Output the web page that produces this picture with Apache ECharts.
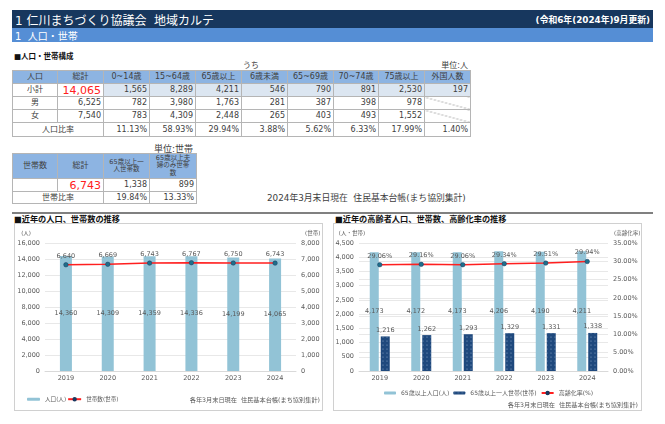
<!DOCTYPE html>
<html lang="ja">
<head>
<meta charset="utf-8">
<title>地域カルテ</title>
<script src="https://cdn.jsdelivr.net/npm/echarts@6/dist/echarts.min.js"></script>
<style>
html, body { margin: 0; padding: 0; background: #fff; }
body { position: relative; width: 665px; height: 424px; overflow: hidden; color: #404040;
  font-family: "DejaVu Sans", "Noto Sans CJK JP", sans-serif; }
.abs { position: absolute; white-space: nowrap; }
#bar1 { left: 12px; top: 10px; width: 641px; height: 18px; background: #17375e; color: #fff; }
#bar2 { left: 12px; top: 28px; width: 641px; height: 14px; background: #558ed5; color: #fff; }
.head { font-size: 8.2px; font-weight: bold; color: #111; }
.note { font-size: 8px; }
table { position: absolute; border-collapse: collapse; table-layout: fixed; font-size: 8px; }
td { border: 1px solid #b5b5b5; padding: 0 2px 0 0; text-align: right; overflow: hidden; box-sizing: border-box; line-height: 1; }
td.h { background: #8db4e2; text-align: center; padding: 0; font-size: 8px; }
td.c { text-align: center; padding: 0; font-size: 8px; }
td.s { background: #dce6f1; }
td.t { color: #ff2020; font-size: 11px; }
td.x { background: linear-gradient(to top right, transparent 48%, #a0a0a0 50%, transparent 52%); }
.box { position: absolute; top: 223px; width: 309px; height: 188px; box-sizing: border-box; border: 1px solid #d0d0d0; }
.line { position: absolute; left: 12px; top: 212px; width: 641px; height: 1.5px; background: #808080; }
</style>
</head>
<body>
<div class="abs" id="bar1">
  <span class="abs" style="left:3px;top:1px;font-size:12px">1 仁川まちづくり協議会&nbsp;&nbsp;地域カルテ</span>
  <span class="abs" style="right:3px;top:3px;font-size:8.8px;font-weight:bold">(令和6年(2024年)9月更新)</span>
</div>
<div class="abs" id="bar2"><span class="abs" style="left:3px;top:0;font-size:10px">1&nbsp;&nbsp;人口・世帯</span></div>

<div class="abs head" style="left:14px;top:50px;font-size:7.5px">■人口・世帯構成</div>
<div class="abs note" style="left:243px;top:59px">うち</div>
<div class="abs note" style="right:197px;top:59px">単位:人</div>
<table id="table1" style="left:12px;top:70px;width:458px"></table>

<div class="abs note" style="left:154px;top:142px;font-size:9px">単位:世帯</div>
<table id="table2" style="left:12px;top:153px;width:184px"></table>
<div class="abs note" style="left:267px;top:191px;font-size:8.8px">2024年3月末日現在&nbsp;&nbsp;住民基本台帳(まち協別集計)</div>

<div class="line"></div>
<div class="abs head" style="left:14px;top:212px">■近年の人口、世帯数の推移</div>
<div class="abs head" style="left:335px;top:212px">■近年の高齢者人口、世帯数、高齢化率の推移</div>

<div class="box" id="chart-left" style="left:14px"></div>
<div class="box" id="chart-right" style="left:333px"></div>

<script>
// 人口構成の表
var popHeader = ['人口', '総計', '0~14歳', '15~64歳', '65歳以上', '6歳未満', '65~69歳', '70~74歳', '75歳以上', '外国人数'];
var popTotal = ['小計', '14,065', '1,565', '8,289', '4,211', '546', '790', '891', '2,530', '197'];
var popMale = ['男', '6,525', '782', '3,980', '1,763', '281', '387', '398', '978', ''];
var popFemale = ['女', '7,540', '783', '4,309', '2,448', '265', '403', '493', '1,552', ''];
var popRatio = ['11.13%', '58.93%', '29.94%', '3.88%', '5.62%', '6.33%', '17.99%', '1.40%'];

// 世帯数の表
var hhHeader = ['世帯数', '総計', '65歳以上一<br>人世帯数', '65歳以上夫<br>婦のみ世帯<br>数'];
var hhTotal = ['', '6,743', '1,338', '899'];
var hhRatio = ['19.84%', '13.33%'];

// グラフのデータ
var years = ['2019', '2020', '2021', '2022', '2023', '2024'];
var population = [14360, 14309, 14359, 14336, 14199, 14065];
var households = [6640, 6669, 6743, 6767, 6750, 6743];
var elderly = [4173, 4172, 4173, 4206, 4190, 4211];
var elderlySingle = [1216, 1262, 1293, 1329, 1331, 1338];
var elderlyRate = [29.06, 29.16, 29.06, 29.34, 29.51, 29.94];

var textColor = '#595959';
var barColor = '#92c3d6';
var navy = '#1f497d';
var red = '#ff1f1f';
var footnote = '各年3月末日現在  住民基本台帳(まち協別集計)';
var fontFamily = '"DejaVu Sans", "Noto Sans CJK JP", sans-serif';

function cell(text, cls, attrs) {
    return '<td class="' + (cls || '') + '" ' + (attrs || '') + '>' + text + '</td>';
}

function buildTables() {
    var html = '<colgroup>';
    var widths = [45, 46, 46, 46, 46, 46, 46, 45, 46, 46];
    widths.forEach(function (w) { html += '<col style="width:' + w + 'px">'; });
    html += '</colgroup><tr style="height:13px">';
    popHeader.forEach(function (t) { html += cell(t, 'h'); });
    html += '</tr>';
    [popTotal, popMale, popFemale].forEach(function (row, r) {
        html += '<tr style="height:13px">';
        row.forEach(function (t, i) {
            var cls = '';
            if (i === 0) cls = 'c';
            else if (r === 0 && i === 1) cls = 't';
            else if (r === 0) cls = 's';
            else if (t === '') cls = 'x';
            html += cell(t, cls);
        });
        html += '</tr>';
    });
    html += '<tr style="height:14px">' + cell('人口比率', 'c', 'colspan="2"');
    popRatio.forEach(function (t) { html += cell(t); });
    html += '</tr>';
    document.getElementById('table1').innerHTML = html;

    var html2 = '<colgroup><col style="width:45px"><col style="width:46px"><col style="width:46px"><col style="width:47px"></colgroup><tr style="height:25px">';
    hhHeader.forEach(function (t, i) {
        html2 += cell(t, 'h', i > 1 ? 'style="font-size:6.5px;line-height:1.1"' : '');
    });
    html2 += '</tr><tr style="height:13px">';
    hhTotal.forEach(function (t, i) { html2 += cell(t, i === 1 ? 't' : ''); });
    html2 += '</tr><tr style="height:12px">' + cell('世帯比率', 'c', 'colspan="2"');
    hhRatio.forEach(function (t) { html2 += cell(t); });
    html2 += '</tr>';
    document.getElementById('table2').innerHTML = html2;
}
buildTables();

function xAxisOption() {
    return {
        type: 'category',
        data: years,
        axisTick: { show: false },
        axisLine: { lineStyle: { color: '#d9d9d9' } },
        axisLabel: { color: textColor, fontSize: 6.5, margin: 4 }
    };
}

function yAxisOption(name, max, interval, formatter, nameAlign, namePadding) {
    return {
        type: 'value',
        name: name,
        nameGap: 7,
        nameLocation: 'end',
        nameTextStyle: { color: textColor, fontSize: 5.5, align: nameAlign, padding: namePadding },
        min: 0,
        max: max,
        interval: interval,
        axisLine: { show: false },
        axisTick: { show: false },
        splitLine: { lineStyle: { color: '#e8e8e8' } },
        axisLabel: { color: textColor, fontSize: 6.5, margin: 5, formatter: formatter }
    };
}

function lineStyleOption() {
    return {
        type: 'line',
        yAxisIndex: 1,
        symbol: 'circle',
        symbolSize: 4.5,
        itemStyle: { color: '#1f6f8b', borderColor: '#17375e', borderWidth: 0.5 },
        lineStyle: { color: red, width: 1.5 }
    };
}

function numberLabel(params) {
    return params.value.toLocaleString('en-US');
}

function thousands(v) {
    return v.toLocaleString('en-US');
}

// 近年の人口、世帯数の推移
var chartLeft = echarts.init(document.getElementById('chart-left'));
var lineLeft = lineStyleOption();
lineLeft.name = '世帯数(世帯)';
lineLeft.data = households;
lineLeft.label = { show: true, position: 'top', distance: 3, color: textColor, fontSize: 6.5, formatter: numberLabel };
chartLeft.setOption({
    textStyle: { fontFamily: fontFamily },
    animation: false,
    title: {
        text: footnote, right: 2, bottom: 7, padding: 0,
        textStyle: { color: textColor, fontSize: 6.2, fontWeight: 'normal' }
    },
    legend: {
        left: 12, bottom: 8, padding: 0, itemWidth: 13, itemHeight: 3, itemGap: 1,
        textStyle: { color: textColor, fontSize: 5.6 },
        data: ['人口(人)', '世帯数(世帯)']
    },
    grid: { left: 30, right: 26, top: 19, bottom: 39, outerBoundsMode: 'none' },
    xAxis: [xAxisOption()],
    yAxis: [
        yAxisOption('(人)', 16000, 2000, thousands, 'right', [0, 14, 0, 0]),
        yAxisOption('(世帯)', 8000, 1000, thousands, 'left', [0, 0, 0, 9])
    ],
    series: [
        {
            name: '人口(人)',
            type: 'bar',
            barWidth: 12,
            itemStyle: { color: barColor },
            label: { show: true, position: 'inside', color: textColor, fontSize: 6.5, formatter: numberLabel },
            data: population
        },
        lineLeft
    ]
});

// 近年の高齢者人口、世帯数、高齢化率の推移
var chartRight = echarts.init(document.getElementById('chart-right'));
var lineRight = lineStyleOption();
lineRight.name = '高齢化率(%)';
lineRight.data = elderlyRate;
lineRight.label = {
    show: true, position: 'top', distance: 3, color: textColor, fontSize: 6.5,
    formatter: function (params) { return params.value.toFixed(2) + '%'; }
};
chartRight.setOption({
    textStyle: { fontFamily: fontFamily },
    animation: false,
    title: {
        text: footnote, right: 3, bottom: 2, padding: 0,
        textStyle: { color: textColor, fontSize: 6.2, fontWeight: 'normal' }
    },
    legend: {
        left: 50, bottom: 14, padding: 0, itemWidth: 12, itemHeight: 3, itemGap: 4,
        textStyle: { color: textColor, fontSize: 6 },
        data: ['65歳以上人口(人)', '65歳以上一人世帯(世帯)', '高齢化率(%)']
    },
    grid: { left: 25, right: 33, top: 19, bottom: 39, outerBoundsMode: 'none' },
    xAxis: [xAxisOption()],
    yAxis: [
        yAxisOption('(人・世帯)', 4500, 500, thousands, 'center', [0, 14, 0, 0]),
        yAxisOption('(高齢化率)', 35, 5, function (v) { return v.toFixed(2) + '%'; }, 'left', [0, 0, 0, 6])
    ],
    series: [
        {
            name: '65歳以上人口(人)',
            type: 'bar',
            barWidth: 9,
            barGap: '22%',
            itemStyle: { color: barColor },
            label: { show: true, position: 'inside', color: textColor, fontSize: 6.5, formatter: numberLabel },
            data: elderly
        },
        {
            name: '65歳以上一人世帯(世帯)',
            type: 'bar',
            barWidth: 9,
            barGap: '22%',
            itemStyle: {
                color: navy,
                decal: { symbol: 'circle', symbolSize: 0.6, color: 'rgba(190,210,235,0.7)', dashArrayX: 2, dashArrayY: 2 }
            },
            label: { show: true, position: 'top', distance: 3, color: textColor, fontSize: 6.5, formatter: numberLabel },
            data: elderlySingle
        },
        lineRight
    ]
});

window.addEventListener('resize', function () {
    chartLeft.resize();
    chartRight.resize();
});
</script>
</body>
</html>
